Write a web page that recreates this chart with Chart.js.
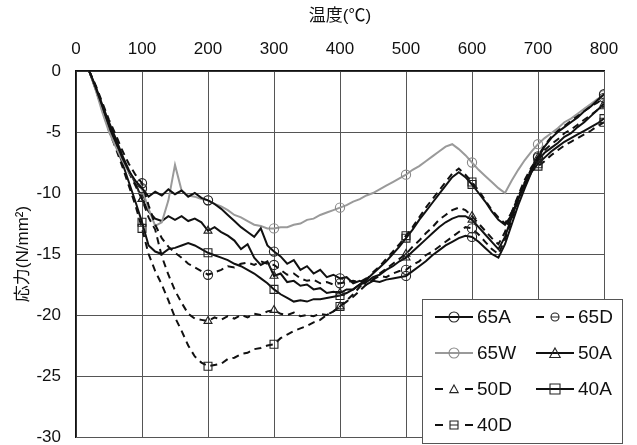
<!DOCTYPE html>
<html>
<head>
<meta charset="utf-8">
<script src="https://cdn.jsdelivr.net/npm/chart.js@4/dist/chart.umd.min.js"></script>
<style>
  html, body { margin: 0; padding: 0; background: #fff; }
  canvas { display: block; }
</style>
</head>
<body>
<canvas id="chart" width="637" height="445"></canvas>
<script>
// temperature (°C) for every series
const temps = [
  20, 30, 40, 50, 60, 70, 80, 90, 100, 110,
  120, 130, 140, 150, 160, 170, 180, 190, 200, 210,
  220, 230, 240, 250, 260, 270, 280, 290, 300, 310,
  320, 330, 340, 350, 360, 370, 380, 390, 400, 410,
  420, 430, 440, 450, 460, 470, 480, 490, 500, 510,
  520, 530, 540, 550, 560, 570, 580, 590, 600, 610,
  620, 630, 640, 650, 660, 670, 680, 690, 700, 710,
  720, 730, 740, 750, 760, 770, 780, 790, 800
]

// stress (N/mm2)
const s65A = [
  0, -1.4, -2.9, -4.4, -5.7, -7.1, -8.2, -9.0, -9.6, -10.3,
  -9.9, -10.2, -9.7, -10.1, -9.8, -10.3, -10.0, -10.4, -10.6, -10.9,
  -11.3, -11.8, -12.3, -12.8, -13.2, -13.6, -12.9, -14.3, -14.8, -15.2,
  -15.8, -15.5, -16.3, -16.0, -16.6, -16.3, -16.9, -16.7, -17.0, -16.9,
  -17.4, -17.2, -17.5, -17.2, -17.3, -17.1, -17.0, -16.9, -16.8, -16.4,
  -16.0, -15.6, -15.1, -14.7, -14.3, -14.0, -13.7, -13.5, -13.6, -14.0,
  -14.5, -15.0, -15.3, -14.2, -12.6, -11.0, -9.6, -8.3, -7.1, -6.2,
  -5.5, -5.0, -4.6, -4.2, -3.8, -3.3, -2.9, -2.4, -1.9
]
const s65D = [
  0, -1.2, -2.6, -4.0, -5.2, -6.5, -7.6, -8.5, -9.2, -11.0,
  -12.6, -13.7, -14.4, -14.9, -15.3, -15.8, -16.1, -16.4, -16.7, -16.5,
  -16.3, -16.0, -16.1, -15.8, -15.7, -15.9, -15.6, -15.8, -15.9, -16.3,
  -16.7, -16.6, -17.0, -17.2, -17.1, -17.4, -17.3, -17.5, -17.4, -17.3,
  -17.2, -17.3, -17.0, -17.1, -16.8, -16.9, -16.6, -16.4, -16.3, -15.9,
  -15.6, -15.1, -14.8, -14.4, -14.0, -13.6, -13.2, -12.8, -12.9, -13.4,
  -14.0, -14.6, -15.0, -13.8, -12.2, -10.6, -9.2, -8.0, -7.0, -6.1,
  -5.4, -4.9, -4.5, -4.1, -3.7, -3.3, -2.9, -2.6, -2.2
]
const s65W = [
  0, -1.6, -3.4, -5.0, -6.2, -7.3, -8.3, -9.0, -9.7, -11.3,
  -12.7, -12.4, -10.6, -7.7, -9.8, -10.2, -10.3, -10.5, -10.6, -10.9,
  -11.1, -11.4, -11.8, -12.0, -12.3, -12.6, -12.7, -12.9, -12.9, -12.8,
  -12.8, -12.6, -12.5, -12.2, -12.1, -11.8, -11.6, -11.4, -11.2, -11.0,
  -10.7, -10.5, -10.2, -10.0, -9.7, -9.4, -9.1, -8.8, -8.5, -8.1,
  -7.8, -7.4, -7.0, -6.6, -6.2, -6.0, -6.4, -6.9, -7.5, -8.1,
  -8.6, -9.1, -9.6, -10.0, -9.0, -8.1, -7.3, -6.6, -6.0, -5.5,
  -5.1, -4.7, -4.2, -3.9, -3.5, -3.1, -2.7, -2.3, -2.0
]
const s50A = [
  0, -1.3, -2.8, -4.2, -5.5, -6.9, -8.1, -9.2, -10.5, -11.5,
  -12.1, -12.3, -11.9, -12.2, -11.9, -12.3, -12.1, -12.4, -13.1, -12.8,
  -13.2, -13.5, -13.9, -14.6, -14.2, -15.3, -15.9, -15.6, -16.8, -16.6,
  -17.3, -17.2, -17.6, -17.5, -17.9, -17.8, -18.2, -18.1, -18.2, -17.9,
  -17.9, -17.5, -17.3, -16.9, -16.7, -16.3, -16.0, -15.6, -15.3, -14.8,
  -14.3, -13.8, -13.3, -12.8, -12.4, -12.1, -11.9, -11.9, -12.2, -12.8,
  -13.4, -14.0, -14.6, -13.6, -12.0, -10.5, -9.2, -8.1, -7.3, -6.7,
  -6.3, -5.9, -5.4, -5.1, -4.6, -4.2, -3.7, -3.2, -2.7
]
const s50D = [
  0, -1.3, -2.9, -4.4, -5.7, -7.0, -8.3, -9.4, -10.5, -12.0,
  -13.0, -15.2, -16.7, -18.0, -19.0, -19.9, -20.3, -20.4, -20.5, -20.2,
  -20.4, -20.1, -20.3, -20.0, -20.2, -19.9, -20.0, -19.7, -19.6, -19.9,
  -20.0, -19.8, -20.1, -20.0, -20.1, -19.9, -20.0, -19.7, -19.3, -18.9,
  -18.5, -18.0, -17.5, -17.1, -16.6, -16.2, -15.8, -15.4, -15.0, -14.4,
  -13.9, -13.3, -12.8, -12.2, -11.8, -11.4, -11.2, -11.4, -11.9, -12.5,
  -13.1, -13.7, -14.2, -13.2, -11.6, -10.2, -8.9, -7.9, -7.1, -6.5,
  -6.0, -5.6, -5.1, -4.8, -4.4, -4.0, -3.6, -3.2, -2.9
]
const s40A = [
  0, -1.5, -3.1, -4.7, -6.0, -7.5, -9.1, -10.7, -12.4, -14.3,
  -14.8, -15.0, -14.6, -14.5, -14.3, -14.1, -14.3, -14.6, -14.9, -15.1,
  -15.3, -15.5, -15.8, -16.0, -16.3, -16.6, -17.0, -17.4, -17.9, -18.3,
  -18.6, -18.9, -18.8, -18.9, -18.7, -18.7, -18.6, -18.5, -18.4, -18.2,
  -17.9, -17.5, -17.1, -16.6, -16.1, -15.6, -15.0, -14.4, -13.7, -13.0,
  -12.2, -11.5, -10.8, -10.1, -9.4, -8.7, -8.3, -8.7, -9.3, -10.0,
  -10.7, -11.5, -12.2, -12.6, -11.8, -10.5, -9.3, -8.3, -7.6, -7.1,
  -6.6, -6.2, -5.8, -5.5, -5.2, -4.9, -4.6, -4.3, -3.9
]
const s40D = [
  0, -1.5, -3.2, -4.9, -6.3, -7.8, -9.4, -11.0, -12.9, -15.0,
  -16.4, -17.5, -18.8, -20.2, -21.3, -22.5, -23.4, -23.9, -24.2, -24.1,
  -24.0, -23.6, -23.5, -23.2, -23.1, -22.8, -22.7, -22.5, -22.4, -21.9,
  -21.6, -21.3, -21.1, -20.9, -20.6, -20.4, -20.0, -19.7, -19.3, -18.8,
  -18.3, -17.7, -17.1, -16.5, -16.0, -15.4, -14.8, -14.2, -13.5, -12.8,
  -12.0, -11.2, -10.5, -9.8, -9.1, -8.4, -8.0, -8.5, -9.1, -9.8,
  -10.6, -11.4, -12.0, -12.5, -11.6, -10.3, -9.1, -8.2, -7.8, -7.4,
  -6.9, -6.5, -6.1, -5.8, -5.5, -5.2, -4.9, -4.5, -4.2
]

const names = ['65A', '65D', '65W', '50A', '50D', '40A', '40D']
const xTicks = [0, 100, 200, 300, 400, 500, 600, 700, 800]
const yTicks = [0, -5, -10, -15, -20, -25, -30]

const values = [s65A, s65D, s65W, s50A, s50D, s40A, s40D]
const colors = ['#111', '#111', '#9a9a9a', '#111', '#111', '#111', '#111']
const dashed = [false, true, false, false, true, false, true]
const shapes = ['circle', 'circle', 'circle', 'triangle', 'triangle', 'rect', 'rect']

const FONT = "'Liberation Sans', Arial, 'Noto Sans CJK JP', sans-serif"

const datasets = names.map((n, i) => ({
  label: n,
  data: temps.map((t, k) => ({ x: t, y: values[i][k] })),
  borderColor: colors[i],
  borderWidth: 2,
  borderDash: dashed[i] ? [7, 5] : [],
  pointStyle: shapes[i],
  pointRadius: c => (c.raw && c.raw.x % 100 === 0) ? (shapes[i] === 'rect' ? 5.6 : 4.6) : 0,
  pointBorderColor: i === 2 ? '#8a8a8a' : '#222',
  pointBackgroundColor: 'rgba(0,0,0,0)',
  pointBorderWidth: 1.1,
  tension: 0,
  fill: false
}))

// legend box drawn inside the plot (bottom right)
const boxLegend = {
  id: 'boxLegend',
  afterDraw(chart) {
    const ctx = chart.ctx
    ctx.save()
    ctx.fillStyle = '#fff'
    ctx.fillRect(422, 299, 200, 144)
    ctx.strokeStyle = '#555'
    ctx.lineWidth = 1
    ctx.strokeRect(422.5, 299.5, 200, 144)
    chart.data.datasets.forEach((ds, i) => {
      const col = i % 2
      const row = Math.floor(i / 2)
      const x0 = col ? 536 : 435
      const y = 317 + row * 36
      const cx = x0 + 19
      ctx.strokeStyle = ds.borderColor
      ctx.lineWidth = 2
      ctx.setLineDash([])
      ctx.beginPath()
      if (dashed[i]) {
        ctx.moveTo(x0, y); ctx.lineTo(x0 + 8, y)
        ctx.moveTo(x0 + 30, y); ctx.lineTo(x0 + 38, y)
      } else {
        ctx.moveTo(x0, y); ctx.lineTo(x0 + 38, y)
      }
      ctx.stroke()
      // marker
      ctx.strokeStyle = ds.pointBorderColor
      ctx.lineWidth = 1.1
      ctx.beginPath()
      const r = dashed[i] ? 4 : 5
      if (shapes[i] === 'circle') {
        ctx.arc(cx, y, r, 0, Math.PI * 2)
        if (dashed[i]) { ctx.moveTo(cx - r, y); ctx.lineTo(cx + r, y) }
      } else if (shapes[i] === 'triangle') {
        ctx.moveTo(cx, y - r)
        ctx.lineTo(cx + r * 1.05, y + r * 0.9)
        ctx.lineTo(cx - r * 1.05, y + r * 0.9)
        ctx.closePath()
      } else {
        ctx.rect(cx - r, y - r, 2 * r, 2 * r)
        if (dashed[i]) { ctx.moveTo(cx - r, y); ctx.lineTo(cx + r, y) }
      }
      ctx.stroke()
      ctx.fillStyle = '#111'
      ctx.font = '19px ' + FONT
      ctx.textBaseline = 'middle'
      ctx.fillText(ds.label, x0 + 42, y + 1)
    })
    ctx.restore()
  }
}

new Chart(document.getElementById('chart'), {
  type: 'line',
  data: { datasets: datasets },
  plugins: [boxLegend],
  options: {
    responsive: false,
    animation: false,
    events: [],
    layout: { padding: { left: 0, top: 0, right: 33, bottom: 8 } },
    plugins: { legend: { display: false }, tooltip: { enabled: false } },
    scales: {
      x: {
        type: 'linear',
        position: 'top',
        min: 0,
        max: 800,
        afterBuildTicks: s => { s.ticks = xTicks.map(v => ({ value: v })) },
        afterFit: s => { s.height = 71 },
        ticks: { color: '#111', padding: 11, font: { family: FONT, size: 17 } },
        grid: { color: '#555', lineWidth: 1, drawTicks: false },
        border: { color: '#111', width: 1.5 },
        title: {
          display: true,
          text: '温度(℃)',
          color: '#111',
          padding: { top: 6, bottom: 0 },
          font: { family: FONT, size: 17 }
        }
      },
      y: {
        min: -30,
        max: 0,
        afterBuildTicks: s => { s.ticks = yTicks.map(v => ({ value: v })) },
        afterFit: s => { s.width = 76; s.paddingTop = 0; s.paddingBottom = 0 },
        ticks: { color: '#111', padding: 15, font: { family: FONT, size: 17 } },
        grid: { color: '#555', lineWidth: 1, drawTicks: false },
        border: { color: '#111', width: 1.5 },
        title: {
          display: true,
          text: '応力(N/mm²)',
          color: '#111',
          padding: { top: 13, bottom: 0 },
          font: { family: FONT, size: 17 }
        }
      }
    }
  }
})
</script>
</body>
</html>
